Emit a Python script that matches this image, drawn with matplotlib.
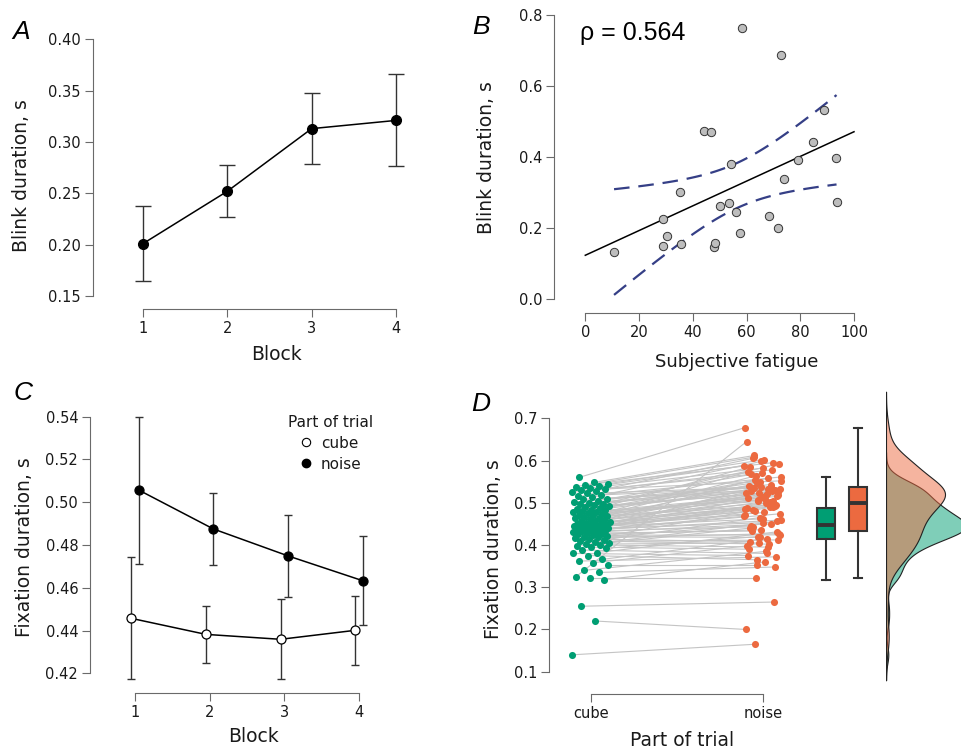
#!/usr/bin/env python3
"""
Four-panel figure: blink duration by block (A), blink duration vs fatigue (B),
fixation duration by block and trial part (C), paired raincloud plot (D).
"""
import matplotlib
matplotlib.use('Agg')

import numpy as np
import matplotlib.pyplot as plt
from matplotlib.lines import Line2D
from matplotlib.colors import to_rgba

# ======================== Data ========================
A_BLOCKS = [1, 2, 3, 4]
A_MEAN = [0.201, 0.252, 0.313, 0.321]
A_LOW = [0.165, 0.227, 0.279, 0.277]
A_HIGH = [0.238, 0.278, 0.348, 0.366]

B_FATIGUE = [10.7, 58.3, 72.7, 88.8, 44.2, 46.9, 54.1, 84.7, 79.0, 93.4, 73.9, 35.2, 53.6,
             50.1, 56.2, 93.5, 28.9, 68.4, 71.7, 57.4, 30.4, 28.8, 35.5, 47.9, 48.4]
B_BLINK = [0.132, 0.763, 0.688, 0.532, 0.474, 0.470, 0.382, 0.444, 0.393, 0.399, 0.338, 0.302, 0.272,
           0.261, 0.245, 0.274, 0.226, 0.234, 0.199, 0.187, 0.178, 0.149, 0.156, 0.148, 0.158]
B_RHO_TEXT = "\u03c1 = 0.564"
T_CRIT = 2.069  # t quantile, 0.975, df = 23

C_BLOCKS = [1, 2, 3, 4]
C_CUBE_MEAN = [0.4457, 0.4382, 0.4359, 0.4401]
C_CUBE_LOW = [0.4172, 0.4247, 0.4172, 0.4237]
C_CUBE_HIGH = [0.4742, 0.4516, 0.4546, 0.4563]
C_NOISE_MEAN = [0.5057, 0.4875, 0.4749, 0.4633]
C_NOISE_LOW = [0.4710, 0.4708, 0.4555, 0.4426]
C_NOISE_HIGH = [0.5398, 0.5043, 0.4942, 0.4844]

# paired values (cube[i] <-> noise[i])
D_CUBE = [0.140, 0.220, 0.255,
          0.318, 0.322, 0.324, 0.335, 0.340, 0.352, 0.358, 0.362, 0.366, 0.375,
          0.380, 0.382, 0.388, 0.392, 0.395, 0.398, 0.400, 0.402, 0.405, 0.408,
          0.410, 0.412, 0.414, 0.416, 0.418, 0.420, 0.421, 0.423, 0.425, 0.426,
          0.428, 0.430, 0.431, 0.433, 0.434, 0.436, 0.437, 0.438, 0.439, 0.440,
          0.441, 0.442, 0.443, 0.444, 0.445, 0.446, 0.447, 0.448, 0.449, 0.450,
          0.452, 0.453, 0.455, 0.456, 0.458, 0.460, 0.461, 0.463, 0.465, 0.466,
          0.468, 0.470, 0.472, 0.474, 0.475, 0.477, 0.479, 0.480, 0.482, 0.484,
          0.486, 0.488, 0.490, 0.492, 0.494, 0.496, 0.498, 0.500, 0.502, 0.505,
          0.508, 0.510, 0.513, 0.516, 0.519, 0.522, 0.525, 0.528, 0.530, 0.532,
          0.535, 0.538, 0.540, 0.542, 0.545, 0.548,
          0.560]
D_NOISE = [0.165, 0.200, 0.265,
           0.360, 0.322, 0.645, 0.348, 0.385, 0.352, 0.398, 0.372, 0.415, 0.365,
           0.375, 0.431, 0.380, 0.420, 0.390, 0.456, 0.395, 0.405, 0.440, 0.412,
           0.402, 0.465, 0.408, 0.427, 0.489, 0.418, 0.446, 0.424, 0.501, 0.436,
           0.433, 0.474, 0.450, 0.513, 0.443, 0.459, 0.528, 0.453, 0.482, 0.468,
           0.491, 0.462, 0.536, 0.471, 0.505, 0.477, 0.555, 0.485, 0.497, 0.517,
           0.480, 0.524, 0.493, 0.509, 0.564, 0.487, 0.530, 0.499, 0.546, 0.511,
           0.495, 0.521, 0.503, 0.574, 0.515, 0.533, 0.507, 0.540, 0.519, 0.558,
           0.522, 0.585, 0.525, 0.531, 0.549, 0.527, 0.592, 0.534, 0.537, 0.567,
           0.532, 0.543, 0.598, 0.535, 0.561, 0.538, 0.570, 0.605, 0.552, 0.578,
           0.582, 0.608, 0.588, 0.595, 0.602, 0.612,
           0.678]
D_GROUPS = ['cube', 'noise']

# ======================== Style ========================
W, H = 962, 751
GREEN = '#009E73'
ORANGE = '#EC6A40'
SPINE = '#6a6a6a'
TXT = '#1a1a1a'
TICK_FS = 10.5
LABEL_FS = 13.5

plt.rcParams['font.family'] = 'DejaVu Sans'

fig = plt.figure(figsize=(W / 100, H / 100), dpi=100)


def px_axes(xlim, ylim, xmap, ymap):
    """Create axes so that data values land on given pixel positions."""
    (xv0, xp0), (xv1, xp1) = xmap
    (yv0, yp0), (yv1, yp1) = ymap
    sx = (xp1 - xp0) / (xv1 - xv0)
    sy = (yp1 - yp0) / (yv1 - yv0)
    left = xp0 + (xlim[0] - xv0) * sx
    right = xp0 + (xlim[1] - xv0) * sx
    bottom = yp0 + (ylim[0] - yv0) * sy
    top = yp0 + (ylim[1] - yv0) * sy
    ax = fig.add_axes([left / W, 1 - bottom / H, (right - left) / W, (bottom - top) / H])
    ax.set_xlim(*xlim)
    ax.set_ylim(*ylim)
    return ax


def r_style(ax, xb, yb):
    """Detached R-like axes."""
    for s in ('top', 'right'):
        ax.spines[s].set_visible(False)
    for s in ('left', 'bottom'):
        ax.spines[s].set_color(SPINE)
        ax.spines[s].set_linewidth(0.8)
    ax.spines['bottom'].set_bounds(*xb)
    ax.spines['left'].set_bounds(*yb)
    ax.tick_params(length=5.5, width=0.8, color=SPINE, labelcolor=TXT,
                   labelsize=TICK_FS, pad=3)
    ax.patch.set_alpha(0)


def fig_text(x, y, s, **kw):
    fig.text(x / W, 1 - y / H, s, **kw)


def panel_letter(x, y, s):
    fig_text(x, y, s, fontsize=19, style='italic', family='Liberation Sans',
             ha='left', va='baseline', color='black')


# ======================== Panel A ========================
axA = px_axes((0.403, 4.3), (0.1373, 0.41), ((1, 143), (4, 396)), ((0.15, 296), (0.40, 39.3)))
r_style(axA, (1, 4), (0.15, 0.40))
mA = np.array(A_MEAN)
axA.errorbar(A_BLOCKS, A_MEAN, yerr=[mA - np.array(A_LOW), np.array(A_HIGH) - mA],
             fmt='none', ecolor='#333333', elinewidth=1, capsize=6, capthick=1)
axA.plot(A_BLOCKS, A_MEAN, color='black', lw=1.1, marker='o', ms=7, mfc='black', mec='black')
axA.set_xticks(A_BLOCKS)
axA.set_yticks([0.15, 0.20, 0.25, 0.30, 0.35, 0.40])
axA.set_yticklabels(['0.15', '0.20', '0.25', '0.30', '0.35', '0.40'])
fig_text(22, 176, 'Blink duration, s', fontsize=LABEL_FS, rotation=90, ha='center', va='center', color=TXT)
fig_text(277, 355, 'Block', fontsize=LABEL_FS, ha='center', va='center', color=TXT)
panel_letter(12, 39, 'A')

# ======================== Panel B ========================
axB = px_axes((-11.65, 108), (-0.040, 0.84), ((0, 585.3), (100, 854)), ((0.0, 299), (0.8, 15.3)))
r_style(axB, (0, 100), (0.0, 0.8))
bx = np.array(B_FATIGUE)
by = np.array(B_BLINK)
n = len(bx)
slope, intercept = np.polyfit(bx, by, 1)
xs = np.linspace(0, 100, 50)
axB.plot(xs, intercept + slope * xs, color='black', lw=1.1, zorder=2)
resid = by - (intercept + slope * bx)
s_err = np.sqrt(np.sum(resid ** 2) / (n - 2))
sxx = np.sum((bx - bx.mean()) ** 2)
xb = np.linspace(bx.min(), bx.max(), 100)
half = T_CRIT * s_err * np.sqrt(1 / n + (xb - bx.mean()) ** 2 / sxx)
fit_b = intercept + slope * xb
for band in (fit_b + half, fit_b - half):
    axB.plot(xb, band, color='#353f86', lw=1.6, ls=(0, (7, 4)), zorder=2)
axB.scatter(bx, by, s=36, facecolor='#bdbdbd', edgecolor='#333333', linewidth=0.7, zorder=3)
axB.set_xticks([0, 20, 40, 60, 80, 100])
axB.set_yticks([0.0, 0.2, 0.4, 0.6, 0.8])
axB.set_yticklabels(['0.0', '0.2', '0.4', '0.6', '0.8'])
axB.text(-2, 0.75, B_RHO_TEXT, fontsize=18, family='Liberation Sans', ha='left', va='center')
fig_text(487, 158, 'Blink duration, s', fontsize=LABEL_FS, rotation=90, ha='center', va='center', color=TXT)
fig_text(737, 362, 'Subjective fatigue', fontsize=13, ha='center', va='center', color=TXT)
panel_letter(472, 34, 'B')

# ======================== Panel C ========================
axC = px_axes((0.397, 4.3), (0.4109, 0.545), ((1, 135), (4, 359)), ((0.42, 673.3), (0.54, 416.7)))
r_style(axC, (1, 4), (0.42, 0.54))
cb = np.array(C_BLOCKS, dtype=float)
for mean, low, high, off, face in ((C_CUBE_MEAN, C_CUBE_LOW, C_CUBE_HIGH, -0.05, 'white'),
                                   (C_NOISE_MEAN, C_NOISE_LOW, C_NOISE_HIGH, 0.05, 'black')):
    m = np.array(mean)
    axC.errorbar(cb + off, mean, yerr=[m - np.array(low), np.array(high) - m],
                 fmt='none', ecolor='#333333', elinewidth=1, capsize=3, capthick=1, zorder=2)
    axC.plot(cb + off, mean, color='black', lw=1.1, marker='o', ms=6.5, mfc=face, mec='black',
             mew=0.9, zorder=3)
axC.set_xticks(C_BLOCKS)
axC.set_yticks([0.42, 0.44, 0.46, 0.48, 0.50, 0.52, 0.54])
handles = [Line2D([], [], ls='none', marker='o', ms=6, mfc='white', mec='black', mew=0.8, label='cube'),
           Line2D([], [], ls='none', marker='o', ms=6, mfc='black', mec='black', label='noise')]
legC = axC.legend(handles=handles, title='Part of trial', loc='upper left',
                  bbox_to_anchor=(288 / W, 1 - 415 / H), bbox_transform=fig.transFigure,
                  frameon=False, fontsize=11, title_fontsize=11, handlelength=0.8,
                  handletextpad=0.6, labelspacing=0.38, borderpad=0, borderaxespad=0)
for t in legC.get_texts():
    t.set_color(TXT)
legC.get_title().set_color(TXT)
fig_text(25, 547, 'Fixation duration, s', fontsize=LABEL_FS, rotation=90, ha='center', va='center', color=TXT)
fig_text(254, 737, 'Block', fontsize=LABEL_FS, ha='center', va='center', color=TXT)
panel_letter(14, 400, 'C')

# ======================== Panel D ========================
D_YLIM = (0.0472, 0.78)
axD = px_axes((0.757, 2.68), D_YLIM, ((1, 591), (2, 762.7)), ((0.1, 671.7), (0.7, 418.3)))
r_style(axD, (1, 2), (0.1, 0.7))
cube = np.array(D_CUBE)
noise = np.array(D_NOISE)
idx = np.arange(len(cube))
# deterministic jitter (low-discrepancy sequences)
jit_c = ((idx * 0.6180339887) % 1 - 0.5) * 0.22
jit_n = ((idx * 0.7548776662 + 0.3) % 1 - 0.5) * 0.22
for i in idx:
    axD.plot([1 + jit_c[i], 2 + jit_n[i]], [cube[i], noise[i]], color='#c4c4c4', lw=0.8, zorder=1)
axD.scatter(1 + jit_c, cube, s=26, color=GREEN, linewidth=0, zorder=3)
axD.scatter(2 + jit_n, noise, s=26, color=ORANGE, linewidth=0, zorder=3)
bp = axD.boxplot([cube, noise], positions=[2.369, 2.555], widths=0.1, patch_artist=True,
                 showfliers=False, whis=1.5, manage_ticks=False,
                 boxprops=dict(edgecolor='#333333', linewidth=1.5),
                 medianprops=dict(color='#333333', linewidth=2.8),
                 whiskerprops=dict(color='#333333', linewidth=1.5),
                 capprops=dict(color='#333333', linewidth=1.5))
for patch, col in zip(bp['boxes'], (GREEN, ORANGE)):
    patch.set_facecolor(col)
axD.set_xticks([1, 2])
axD.set_xticklabels(D_GROUPS)
axD.set_yticks([0.1, 0.2, 0.3, 0.4, 0.5, 0.6, 0.7])
fig_text(494, 549, 'Fixation duration, s', fontsize=LABEL_FS, rotation=90, ha='center', va='center', color=TXT)
fig_text(682, 740, 'Part of trial', fontsize=LABEL_FS, ha='center', va='center', color=TXT)
panel_letter(471, 411, 'D')


def kde_r(values, npts=512, cut=3):
    """Gaussian KDE with R's bw.nrd0 bandwidth."""
    v = np.asarray(values)
    sd = v.std(ddof=1)
    q75, q25 = np.percentile(v, [75, 25])
    bw = 0.9 * min(sd, (q75 - q25) / 1.34) * len(v) ** -0.2
    grid = np.linspace(v.min() - cut * bw, v.max() + cut * bw, npts)
    dens = np.exp(-0.5 * ((grid[:, None] - v[None, :]) / bw) ** 2).sum(1) / (len(v) * bw * np.sqrt(2 * np.pi))
    return grid, dens


# density (half violin) panel, sharing D's vertical scale
d_bottom = 694
d_top = 671.7 - (D_YLIM[1] - 0.1) * 422.3
axK = fig.add_axes([886 / W, 1 - d_bottom / H, (W - 886) / W, (d_bottom - d_top) / H])
gc, dc = kde_r(cube)
gn, dn = kde_r(noise)
axK.fill_betweenx(gc, 0, dc, facecolor=to_rgba(GREEN, 0.5), edgecolor='#222222', linewidth=0.8)
axK.fill_betweenx(gn, 0, dn, facecolor=to_rgba(ORANGE, 0.5), edgecolor='#222222', linewidth=0.8)
axK.set_ylim(*D_YLIM)
axK.set_xlim(0, dn.max() * (W - 886) / 59)
axK.set_axis_off()

fig.savefig('out.png', dpi=100)
print('saved out.png')
